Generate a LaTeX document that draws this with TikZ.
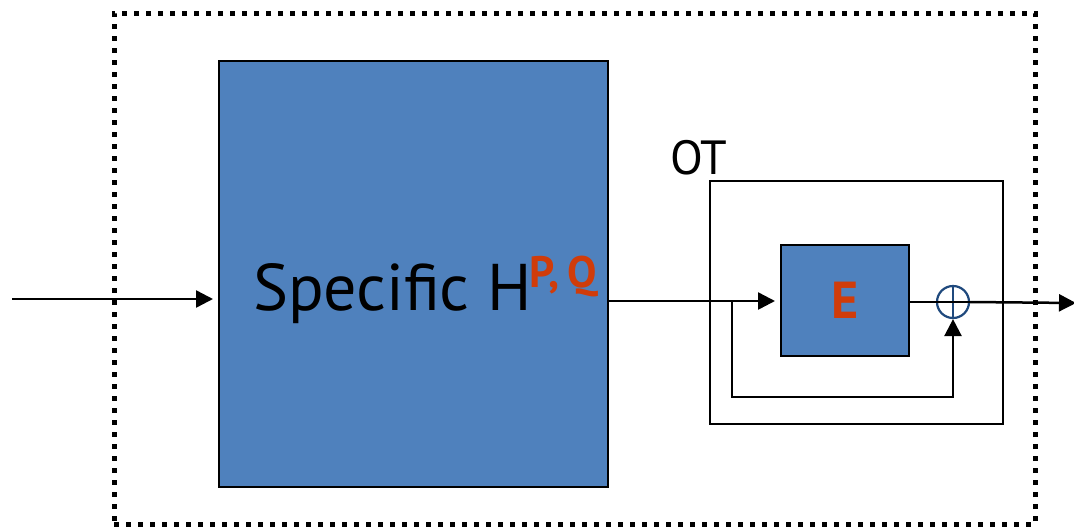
\documentclass[tikz,border=0pt]{standalone}
\usepackage{fontspec}
\setmainfont{PT Sans}
\usepackage{xcolor}
\usepackage{tikz}
\usetikzlibrary{arrows.meta,positioning,calc}
\definecolor{blkfill}{RGB}{79,129,189}
\definecolor{lblred}{RGB}{208,60,10}
\definecolor{sumblue}{RGB}{31,73,125}

\begin{document}
\begin{tikzpicture}[x=1pt,y=-1pt,
  blk/.style={draw,line width=2pt,fill=blkfill,inner sep=0pt},
  wire/.style={draw,line width=2.5pt},
  hull/.style={draw,line width=5pt,dash pattern=on 5pt off 7pt,inner sep=0pt},
  sum/.style={circle,draw=sumblue,line width=2.2pt,minimum size=32pt,inner sep=0pt},
  arr/.style={-{Triangle[length=17pt,width=17pt]},line width=2.5pt}]
\useasboundingbox (0,0) rectangle (1074,528);
\node[hull,minimum width=921pt,minimum height=511pt] (hull) at (574.5,268.5) {};
\node[blk,minimum width=389pt,minimum height=426pt] (hpq) at (413.5,274) {};
\node[anchor=base west,inner sep=0pt,font=\fontsize{66}{70}\selectfont] (spec) at (253,310) {Specific H};
\node[anchor=base west,inner sep=0pt,text=lblred,font=\fontsize{44}{46}\selectfont\bfseries] (pq) at (529,287) {P,\,Q};
\node[anchor=base west,inner sep=0pt,font=\fontsize{48}{50}\selectfont] (otl) at (670,174) {OT};
\node[draw,line width=2pt,minimum width=293pt,minimum height=243pt,inner sep=0pt] (ot) at (856.5,302.5) {};
\node[blk,minimum width=128pt,minimum height=111pt,text=lblred,font=\fontsize{52}{54}\selectfont\bfseries] (e) at (845,300.5) {E};
\node[sum] (add) at (953,302) {};
\draw[sumblue,line width=2.2pt] (add.north) -- (add.south);
\coordinate (in) at (12,299);
\coordinate (split) at (732,301);
\coordinate (fb) at (732,397);
\coordinate (out) at (1076,303);
\draw[arr,shorten >=5pt] (in) -- (hpq.west |- in);
\draw[arr,shorten >=5pt] (hpq.east |- split) -- (e.west |- split);
\draw[arr] (split) -- (fb) -| (add.south);
\draw[wire] (e.east |- add) -- (add.west);
\draw[wire] (add.west) -- (add.east);
\draw[arr] (add.east) -- (out);
\end{tikzpicture}
\end{document}
